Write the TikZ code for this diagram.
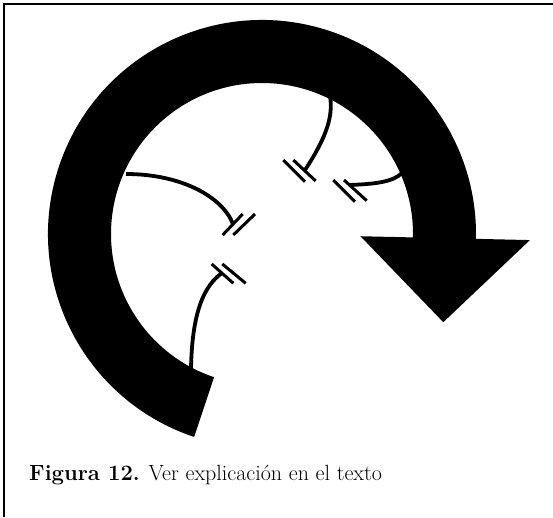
\documentclass[tikz,border=0pt]{standalone}
\usetikzlibrary{calc}
\begin{document}
\begin{tikzpicture}[x=1pt,y=1pt,
  conn/.style={line width=3.8pt},
  barline/.style={line width=3pt},
  framel/.style={line width=2.6pt}]
\useasboundingbox (0,0) rectangle (553,517);
% frame
\draw[framel] (4,0) -- (4,513) -- (553,513);
% circular arrow
\coordinate (c) at (262,283);
\coordinate (tip) at (443.3,194.8);
\fill (c) ++(251.5:214) arc[start angle=251.5, end angle=-1.3, radius=214]
  -- ($(c)+(-1.3:268)$) -- (tip) -- ($(c)+(-1.3:98.5)$) -- ($(c)+(-1.3:151)$)
  arc[start angle=-1.3, end angle=251.5, radius=151] -- cycle;
% bars
\coordinate (p1a1) at (222.7,282); \coordinate (p1a2) at (242.7,303);
\coordinate (p1b1) at (233.3,282); \coordinate (p1b2) at (255,303);
\coordinate (p2a1) at (211.7,253); \coordinate (p2a2) at (233.3,233.7);
\coordinate (p2b1) at (222.3,253); \coordinate (p2b2) at (245.7,233.7);
\coordinate (p3a1) at (283.3,357); \coordinate (p3a2) at (305,335.3);
\coordinate (p3b1) at (293.3,357); \coordinate (p3b2) at (315.7,336);
\coordinate (p4a1) at (333.3,337); \coordinate (p4a2) at (355,315.3);
\coordinate (p4b1) at (344,337); \coordinate (p4b2) at (366.7,316.3);
\foreach \p in {p1a,p1b,p2a,p2b,p3a,p3b,p4a,p4b}{\draw[barline] (\p1) -- (\p2);}
% connectors
\coordinate (s1) at (126,343); \coordinate (e1) at (233,293);
\coordinate (s2) at (222,244); \coordinate (e2) at (191,148);
\coordinate (s3) at (330,421); \coordinate (e3) at (305,347);
\coordinate (s4) at (402,344); \coordinate (e4) at (350,332);
\draw[conn] (s1) .. controls (180,343) and (222,321) .. (e1);
\draw[conn] (s2) .. controls (205,232) and (192,207) .. (e2);
\draw[conn] (s3) .. controls (333,402) and (328,382) .. (e3);
\draw[conn] (s4) .. controls (393,335) and (375,333) .. (e4);
% caption
\node[anchor=base west, inner sep=0pt, font=\fontsize{22}{26}\selectfont] (cap) at (29,36.3)
  {\textbf{Figura 12.} Ver explicación en el texto};
\end{tikzpicture}
\end{document}
